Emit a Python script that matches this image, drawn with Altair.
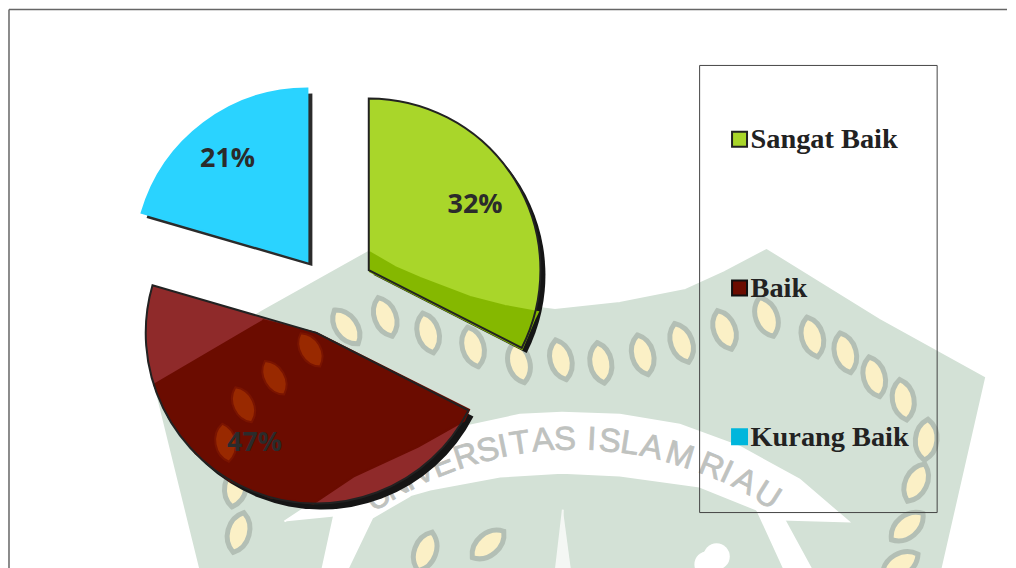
import altair as alt
import pandas as pd

# --- pie values (share in percent) ---
names = ["Sangat Baik", "Baik", "Kurang Baik"]
shares = [32.5, 47.0, 20.5]
labels = ["32%", "47%", "21%"]
colors = ["#a9d62a", "#8f2a2a", "#2ad3ff"]
swatch_colors = ["#a9d62a", "#6b0c00", "#00b6dc"]
outlines = ["#222222", "#222222", "#2ad3ff"]
shadow_colors = ["#151515", "#151515", "#2b2b2b"]
center_x = [368.5, 316, 307]
center_y = [270, 333, 261]
shadow_x = [373.5, 321, 312]
shadow_y = [275, 339, 266]
radii = [172, 171, 173]
label_x = [475, 254, 227]
label_y = [205, 443, 159]
legend_y = [139, 288, 437]
swatch_x = [740, 740, 740]
legend_text_x = [751, 751, 751]

# --- watermark values ---
shield_x = [152, 261, 368, 400, 457, 500, 555, 620, 686, 725, 767, 880, 985, 940, 200]
shield_y = [380, 312, 252, 270, 291, 303, 310, 303, 290, 272, 250, 320, 378, 575, 575]
band_x = [284, 340, 400, 460, 520, 562, 620, 680, 740, 800, 849, 782, 700, 620, 562, 500, 430, 334]
band_y = [522, 485, 450, 428, 415, 413, 415, 425, 447, 480, 522, 520, 487, 476, 473, 477, 490, 517]
ring_l_x = [334, 322, 347, 372, 410]
ring_l_y = [515, 570, 570, 518, 496]
ring_r_x = [752, 785, 812, 782]
ring_r_y = [498, 570, 570, 515]
spike_x = [563, 556, 571]
spike_y = [510, 570, 570]
leaf_x = [346, 385, 428, 473, 519, 561, 601, 643, 682, 725, 767, 813, 846, 875, 904, 927, 917, 908, 901, 235, 238, 488, 425]
leaf_y = [327, 317, 333, 347, 363, 360, 363, 355, 343, 330, 317, 337, 353, 377, 400, 440, 483, 527, 565, 487, 533, 545, 552]
leaf_angle = [325, 340, 345, 345, 345, 345, 350, 345, 340, 340, 340, 345, 345, 345, 350, 5, 25, 50, 60, 10, 15, 50, 20]
blob_x = [717, 708]
blob_y = [557, 565]
text_chars = list("UNIVERSITASISLAMRIAU")
text_x = [378, 396, 408, 423, 443, 466, 488, 503, 520, 543, 565, 592, 610, 630, 652, 680, 712, 727, 745, 768]
text_y = [498, 487, 481, 473, 465, 457, 451, 447, 444, 441, 440, 440, 442, 444, 448, 456, 467, 473, 482, 496]
text_angle = [327, 330.4, 332.5, 335.2, 338.6, 342.5, 346.1, 348.5, 351.3, 355, 358.4, 2.7, 5.5, 8.7, 12.3, 16.9,
              22.2, 24.8, 28, 32.2]

# watermark seen through the slices
dark_red_x = [262, 316, 469, 464, 418, 353, 313, 270, 229, 195, 168, 153]
dark_red_y = [320, 333, 410, 421, 447, 477, 504, 498, 481, 454, 418, 384]
dark_green_x = [369, 395, 420, 470, 505, 538, 535, 530, 522, 369]
dark_green_y = [252, 267, 278, 297, 306, 312, 318, 330, 349, 271]
orange_x = [310, 274, 243, 225]
orange_y = [350, 378, 405, 443]
orange_angle = [330, 330, 335, 350]

starts, ends, total = [], [], 0
for s in shares:
    starts.append(total)
    total += s
    ends.append(total)

pie = pd.DataFrame({"name": names, "start": starts, "end": ends, "color": colors, "outline": outlines, "r": radii,
                    "shadow": shadow_colors, "cx": center_x, "cy": center_y, "sx": shadow_x, "sy": shadow_y})
label_df = pd.DataFrame({"label": labels, "x": label_x, "y": label_y})
legend_df = pd.DataFrame({"name": names, "y": legend_y, "color": swatch_colors, "sx": swatch_x, "tx": legend_text_x,
                          "stroke": ["#222222", "#111111", "#00b6dc"]})

X = alt.Scale(domain=[8, 1008], range=[0, 1000], nice=False, zero=False)
Y = alt.Scale(domain=[9, 569], range=[0, 560], nice=False, zero=False)
xq = lambda f: alt.X(f, type="quantitative", scale=X, axis=None)
yq = lambda f: alt.Y(f, type="quantitative", scale=Y, axis=None)


def polygon(xs, ys, fill):
    df = pd.DataFrame({"x": xs, "y": ys, "i": list(range(len(xs)))})
    return alt.Chart(df).mark_line(fill=fill, stroke=fill, clip=True).encode(x=xq("x"), y=yq("y"), order="i:O")


LEAF = "M0,-1 C0.7,-0.55 0.7,0.55 0,1 C-0.7,0.55 -0.7,-0.55 0,-1 Z"
shield = polygon(shield_x, shield_y, "#d3e1d6")
band = polygon(band_x, band_y, "#ffffff")
ring_l = polygon(ring_l_x, ring_l_y, "#ffffff")
ring_r = polygon(ring_r_x, ring_r_y, "#ffffff")
spike = polygon(spike_x, spike_y, "#f4f7f4")
leaves = alt.Chart(pd.DataFrame({"x": leaf_x, "y": leaf_y, "a": leaf_angle})).mark_point(
    shape=LEAF, size=1700, filled=True, fill="#fbf0c6", stroke="#b3bfb5", strokeWidth=5, opacity=1, clip=True
).encode(x=xq("x"), y=yq("y"), angle=alt.Angle("a:Q", scale=None))
blob = alt.Chart(pd.DataFrame({"x": blob_x, "y": blob_y})).mark_circle(size=700, color="#ffffff", opacity=1, clip=True).encode(
    x=xq("x"), y=yq("y"))
wm_text = alt.Chart(pd.DataFrame({"c": text_chars, "x": text_x, "y": text_y, "a": text_angle})).mark_text(
    font="Liberation Sans", fontSize=33, color="#bfc2bf", stroke="#bfc2bf", strokeWidth=0.8,
    align="center", baseline="middle"
).encode(x=xq("x"), y=yq("y"), text="c:N", angle=alt.Angle("a:Q", scale=None))

theta = alt.Theta("start:Q", scale=alt.Scale(domain=[0, 100], range=[0, 6.28318]), stack=None)
radius = alt.Radius("r:Q", scale=None)
shadow = alt.Chart(pie).mark_arc().encode(
    x=xq("sx"), y=yq("sy"), theta=theta, theta2="end:Q", radius=radius, fill=alt.Fill("shadow:N", scale=None))
slices = alt.Chart(pie).mark_arc().encode(
    x=xq("cx"), y=yq("cy"), theta=theta, theta2="end:Q", radius=radius, fill=alt.Fill("color:N", scale=None))
dark_red = polygon(dark_red_x, dark_red_y, "#6b0c00")
dark_green = polygon(dark_green_x, dark_green_y, "#85b800")
orange = alt.Chart(pd.DataFrame({"x": orange_x, "y": orange_y, "a": orange_angle})).mark_point(
    shape=LEAF, size=1500, filled=True, fill="#992900", stroke="#7a1400", strokeWidth=2, opacity=1
).encode(x=xq("x"), y=yq("y"), angle=alt.Angle("a:Q", scale=None))
edges = alt.Chart(pie).mark_arc(strokeWidth=2, fill="transparent").encode(
    x=xq("cx"), y=yq("cy"), theta=theta, theta2="end:Q", radius=radius, stroke=alt.Stroke("outline:N", scale=None))
pct = alt.Chart(label_df).mark_text(font="Open Sans", fontWeight="bold", fontSize=27, color="#2b2b2b",
                                    align="center", baseline="middle").encode(x=xq("x"), y=yq("y"), text="label:N")

box = alt.Chart(pd.DataFrame({"a": [700], "b": [938], "c": [65], "d": [513]})).mark_rect(
    fill="transparent", stroke="#444444", strokeWidth=1).encode(x=xq("a"), x2="b:Q", y=yq("c"), y2="d:Q")
swatch = alt.Chart(legend_df).mark_point(shape="square", size=225, filled=True, opacity=1, strokeWidth=2).encode(
    x=xq("sx"), y=yq("y"), fill=alt.Fill("color:N", scale=None), stroke=alt.Stroke("stroke:N", scale=None))
legend_text = alt.Chart(legend_df).mark_text(font="Liberation Serif", fontWeight="bold", fontSize=28.4,
                                             color="#222222", align="left", baseline="middle").encode(
    x=xq("tx"), y=yq("y"), text="name:N")

frame_top = alt.Chart(pd.DataFrame({"y": [9]})).mark_rule(color="#666666", strokeWidth=1.5).encode(y=yq("y"))
frame_left = alt.Chart(pd.DataFrame({"x": [8]})).mark_rule(color="#666666", strokeWidth=1.5).encode(x=xq("x"))

chart = alt.layer(shield, band, ring_l, ring_r, spike, leaves, blob, wm_text, shadow, slices, dark_red, dark_green,
                  orange, edges, pct, box, swatch, legend_text, frame_top, frame_left).properties(
    width=1000, height=560, padding=0, background="white", view=alt.ViewConfig(stroke=None)
)
chart.save("out.html", embed_options={"renderer": "svg", "actions": False})
